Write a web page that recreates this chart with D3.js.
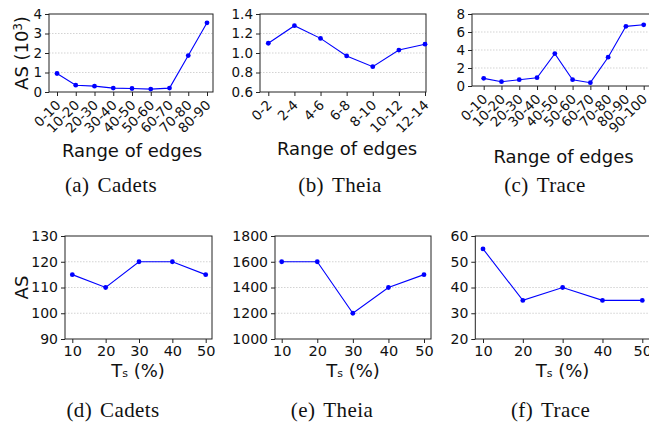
<!DOCTYPE html>
<html>
<head>
<meta charset="utf-8">
<script src="https://cdn.jsdelivr.net/npm/d3@7/dist/d3.min.js"></script>
<style>
  html, body { margin: 0; padding: 0; background: #fff; }
  svg { display: block; }
  text { font-family: "DejaVu Sans", sans-serif; fill: #111; }
  .cap { font-family: "Liberation Serif", "Times New Roman", serif; }
</style>
</head>
<body>
<svg id="chart" width="649" height="423"></svg>
<script>
// ---- data ----
const catsA = ["0-10","10-20","20-30","30-40","40-50","50-60","60-70","70-80","80-90"];
const valsA = [0.95, 0.35, 0.30, 0.20, 0.18, 0.15, 0.20, 1.87, 3.55];
const ticksA = [0, 1, 2, 3, 4];

const catsB = ["0-2","2-4","4-6","6-8","8-10","10-12","12-14"];
const valsB = [1.10, 1.28, 1.15, 0.97, 0.86, 1.03, 1.09];
const ticksB = [0.6, 0.8, 1.0, 1.2, 1.4];

const catsC = ["0-10","10-20","20-30","30-40","40-50","50-60","60-70","70-80","80-90","90-100"];
const valsC = [0.85, 0.48, 0.70, 0.92, 3.60, 0.70, 0.37, 3.20, 6.63, 6.80];
const ticksC = [0, 2, 4, 6, 8];

const tsVals = [10, 20, 30, 40, 50];
const valsD = [115, 110, 120, 120, 115];
const ticksD = [90, 100, 110, 120, 130];
const valsE = [1600, 1600, 1200, 1400, 1500];
const ticksE = [1000, 1200, 1400, 1600, 1800];
const valsF = [55, 35, 40, 35, 35];
const ticksF = [20, 30, 40, 50, 60];

const captions = ["(a)", "Cadets", "(b)", "Theia", "(c)", "Trace", "(d)", "Cadets", "(e)", "Theia", "(f)", "Trace"];

// ---- drawing ----
const svg = d3.select("#chart");
const BLUE = "#0000ff";

function panel(o) {
  const g = svg.append("g");
  const y = d3.scaleLinear().domain([o.ticks[0], o.ticks[o.ticks.length - 1]]).range([o.y1, o.y0]);
  let x;
  if (o.cats) {
    x = d3.scalePoint().domain(o.cats).range([o.fx, o.lx]);
  } else {
    x = d3.scaleLinear().domain([o.xs[0], o.xs[o.xs.length - 1]]).range([o.fx, o.lx]);
  }
  const xKeys = o.cats || o.xs;

  g.selectAll(".grid").data(o.ticks.slice(1, -1)).enter().append("line")
    .attr("x1", o.x0).attr("x2", o.x1)
    .attr("y1", d => y(d)).attr("y2", d => y(d))
    .attr("stroke", "#c8c8c8").attr("stroke-width", 0.8).attr("stroke-dasharray", "1.5,1.5");

  const fmt = o.fmt || (d => d);
  const ya = g.append("g").attr("transform", `translate(${o.x0},0)`)
    .call(d3.axisLeft(y).tickValues(o.ticks).tickFormat(fmt).tickSize(4).tickPadding(3));
  ya.select(".domain").remove();
  ya.selectAll("line").attr("stroke", "#222");
  ya.selectAll("text").style("font-size", o.tfs + "px").attr("fill", "#111");

  const xa = g.append("g").attr("transform", `translate(0,${o.y1})`)
    .call((o.cats ? d3.axisBottom(x) : d3.axisBottom(x).tickValues(o.xs)).tickSize(4).tickPadding(3));
  xa.select(".domain").remove();
  xa.selectAll("line").attr("stroke", "#222");
  xa.selectAll("text").style("font-size", o.tfs + "px").attr("fill", "#111");
  if (o.cats) {
    xa.selectAll("text")
      .attr("text-anchor", "end")
      .attr("y", 0).attr("dy", 0)
      .attr("transform", "translate(4,14) rotate(-45)");
  } else {
    xa.selectAll("text").style("font-size", (o.tfs + 0.5) + "px");
  }

  g.append("rect").attr("x", o.x0).attr("y", o.y0)
    .attr("width", o.x1 - o.x0).attr("height", o.y1 - o.y0)
    .attr("fill", "none").attr("stroke", "#222").attr("stroke-width", 1);

  const pts = xKeys.map((k, i) => [x(k), y(o.vals[i])]);
  g.append("path").attr("d", d3.line()(pts)).attr("fill", "none")
    .attr("stroke", BLUE).attr("stroke-width", 1.1);
  g.selectAll(".pt").data(pts).enter().append("circle")
    .attr("cx", d => d[0]).attr("cy", d => d[1]).attr("r", 2.4).attr("fill", BLUE);

  const xl = g.append("text").attr("x", o.xlx).attr("y", o.xly)
    .attr("text-anchor", "middle").style("font-size", "18px");
  if (o.cats) {
    xl.text("Range of edges");
  } else {
    xl.append("tspan").text("T");
    xl.append("tspan").text("s").style("font-size", "11px");
    xl.append("tspan").text(" (%)");
  }

  if (o.ylabel) {
    const yl = g.append("text").attr("transform", `translate(${o.ylx},${(o.y0 + o.y1) / 2}) rotate(-90)`)
      .attr("text-anchor", "middle").attr("dy", "0.36em").style("font-size", "18px");
    if (o.ylabel === "AS10") {
      yl.append("tspan").text("AS (10");
      yl.append("tspan").text("3").style("font-size", "11.5px").attr("dy", "-0.6em");
      yl.append("tspan").text(")").attr("dy", "0.38em");
    } else {
      yl.text("AS");
    }
  }

  const cap = g.append("text").attr("class", "cap").attr("x", o.cx).attr("y", o.cy)
    .attr("text-anchor", "middle").style("font-size", "21px").style("letter-spacing", "0.4px");
  cap.append("tspan").text(o.cap[0]);
  cap.append("tspan").attr("dx", 8).text(o.cap[1]);
}

panel({ cats: catsA, vals: valsA, ticks: ticksA, x0: 49, x1: 213, y0: 14, y1: 92, fx: 57, lx: 207,
  tfs: 13.5, xlx: 132, xly: 157, ylabel: "AS10", ylx: 22, cap: captions.slice(0, 2), cx: 111, cy: 192 });
panel({ cats: catsB, vals: valsB, ticks: ticksB, x0: 260, x1: 426, y0: 14, y1: 92, fx: 268.3, lx: 425,
  tfs: 13.5, fmt: d3.format(".1f"), xlx: 347, xly: 155, cap: captions.slice(2, 4), cx: 340, cy: 192 });
panel({ cats: catsC, vals: valsC, ticks: ticksC, x0: 472, x1: 660, y0: 14, y1: 86, fx: 483.7, lx: 643.7,
  tfs: 13.5, xlx: 563.5, xly: 163, cap: captions.slice(4, 6), cx: 545, cy: 192 });

panel({ xs: tsVals, vals: valsD, ticks: ticksD, x0: 65, x1: 212, y0: 236, y1: 339, fx: 72.3, lx: 205.7,
  tfs: 14, xlx: 138, xly: 377, ylabel: "AS", ylx: 22, cap: captions.slice(6, 8), cx: 113, cy: 417 });
panel({ xs: tsVals, vals: valsE, ticks: ticksE, x0: 275, x1: 431, y0: 236, y1: 339, fx: 281.7, lx: 424,
  tfs: 14, xlx: 353, xly: 377, cap: captions.slice(8, 10), cx: 332, cy: 417 });
panel({ xs: tsVals, vals: valsF, ticks: ticksF, x0: 475.3, x1: 650, y0: 236, y1: 339, fx: 483, lx: 642.3,
  tfs: 14, xlx: 562.5, xly: 377, cap: captions.slice(10, 12), cx: 550.5, cy: 417 });
</script>
</body>
</html>
